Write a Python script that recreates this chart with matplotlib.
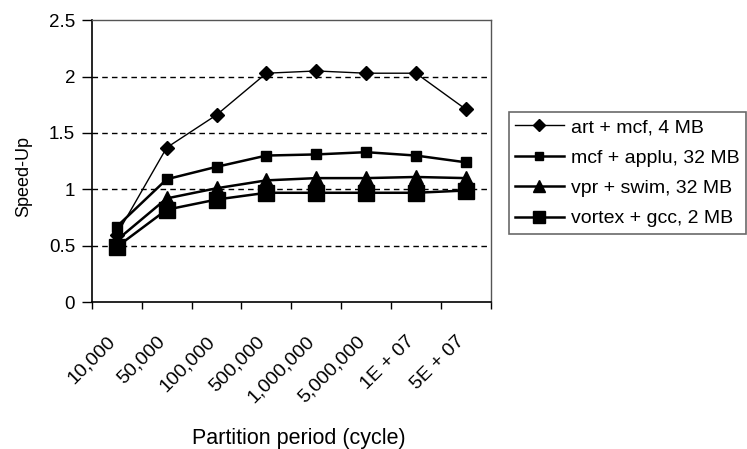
import numpy as np
import matplotlib.pyplot as plt
import matplotlib.transforms as mtransforms

plt.rcParams['font.family'] = ['Liberation Sans', 'DejaVu Sans']

periods = ['10,000', '50,000', '100,000', '500,000', '1,000,000',
           '5,000,000', '1E + 07', '5E + 07']
art_mcf    = [0.60, 1.37, 1.66, 2.03, 2.05, 2.03, 2.03, 1.71]
mcf_applu  = [0.67, 1.09, 1.20, 1.30, 1.31, 1.33, 1.30, 1.24]
vpr_swim   = [0.55, 0.92, 1.01, 1.08, 1.10, 1.10, 1.11, 1.10]
vortex_gcc = [0.49, 0.82, 0.91, 0.97, 0.97, 0.97, 0.97, 0.99]
labels = ['art + mcf, 4 MB', 'mcf + applu, 32 MB',
          'vpr + swim, 32 MB', 'vortex + gcc, 2 MB']

fig = plt.figure(figsize=(7.47, 4.49), dpi=100)
ax = fig.add_axes([0.123, 0.327, 0.534, 0.628])

x = np.arange(len(periods))
ax.plot(x, art_mcf, color='black', lw=1.0, marker='D', ms=7.5, label=labels[0])
ax.plot(x, mcf_applu, color='black', lw=1.8, marker='s', ms=7.5, label=labels[1])
ax.plot(x, vpr_swim, color='black', lw=1.8, marker='^', ms=10, label=labels[2])
ax.plot(x, vortex_gcc, color='black', lw=1.8, marker='s', ms=11.5, label=labels[3])

ax.set_xlim(-0.5, len(periods) - 0.5)
ax.set_ylim(0, 2.5)
ax.set_yticks([0, 0.5, 1, 1.5, 2, 2.5])
ax.set_yticklabels(['0', '0.5', '1', '1.5', '2', '2.5'])
for yv in [0.5, 1, 1.5, 2]:
    ax.axhline(yv, color='black', lw=1.0, ls=(0, (4, 3)), zorder=0)

ax.set_xticks(np.arange(len(periods) + 1) - 0.5)
ax.set_xticklabels([])
ax.set_xticks(x, minor=True)
ax.set_xticklabels(periods, minor=True, rotation=45, ha='right', va='top',
                   rotation_mode='anchor')
ax.tick_params(axis='x', which='minor', length=0, pad=22, labelsize=14)
ax.tick_params(axis='x', which='major', direction='out', length=5, width=1)
ax.tick_params(axis='y', direction='out', length=7, width=1, labelsize=13.5, pad=5)

# nudge the slanted labels to the left, as in the original
shift = mtransforms.ScaledTranslation(-10 / 100, 0, fig.dpi_scale_trans)
for lab in ax.get_xticklabels(minor=True):
    lab.set_transform(lab.get_transform() + shift)

for side in ['top', 'right']:
    ax.spines[side].set_color('#555555')
    ax.spines[side].set_linewidth(1.0)
for side in ['left', 'bottom']:
    ax.spines[side].set_linewidth(1.2)

ax.set_ylabel('Speed-Up', fontsize=13)
ax.yaxis.set_label_coords(-0.15, 0.447)
ax.set_xlabel('Partition period (cycle)', fontsize=15.5)
ax.xaxis.set_label_coords(0.52, -0.447)

leg = ax.legend(loc='upper left', bbox_to_anchor=(1.045, 0.674), fontsize=14,
                frameon=True, fancybox=False, edgecolor='#444444',
                handlelength=2.5, labelspacing=0.66, borderpad=0.33,
                handletextpad=0.35, borderaxespad=0, markerscale=0.8)
leg.get_frame().set_linewidth(1.2)

plt.savefig('out.png', dpi=100)
